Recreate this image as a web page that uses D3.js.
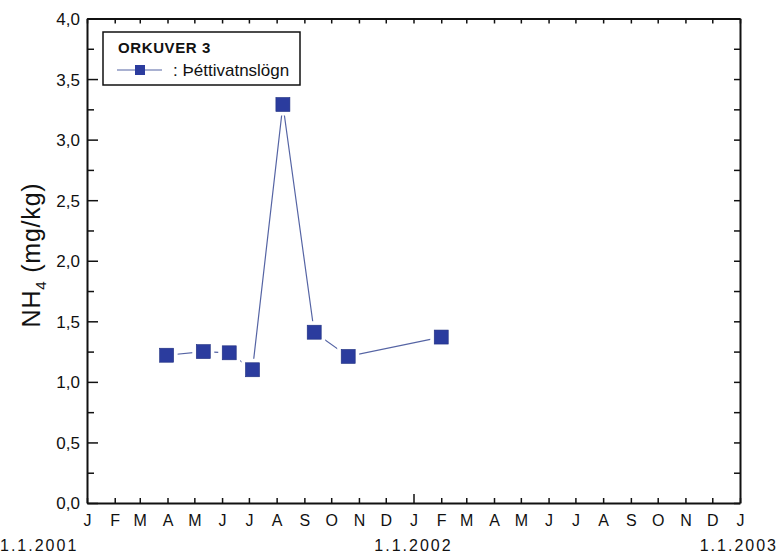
<!DOCTYPE html>
<html>
<head>
<meta charset="utf-8">
<script src="https://cdn.jsdelivr.net/npm/d3@7"></script>
<style>
  body { margin: 0; background: #fff; }
  text { font-family: "Liberation Sans", Arial, sans-serif; }
</style>
</head>
<body>
<div id="chart"></div>
<script>
// sample dates and NH4 values (mg/kg)
const sampleDates = ["2001-03-31", "2001-05-11", "2001-06-09", "2001-07-05", "2001-08-08", "2001-09-12", "2001-10-20", "2002-02-01"];
const nh4 = [1.22, 1.25, 1.24, 1.10, 3.29, 1.41, 1.21, 1.37];
const monthLetters = ["J", "F", "M", "A", "M", "J", "J", "A", "S", "O", "N", "D"];
const yearLabels = ["1.1.2001", "1.1.2002", "1.1.2003"];
const yTicks = [0, 0.5, 1, 1.5, 2, 2.5, 3, 3.5, 4];
const yMinorTicks = [0.25, 0.75, 1.25, 1.75, 2.25, 2.75, 3.25, 3.75];
const seriesName = ": Þéttivatnslögn";
const legendTitle = "ORKUVER 3";

const width = 780, height = 556;
const plotLeft = 87, plotRight = 740, plotTop = 18.5, plotBottom = 503;
const markerColor = "#2b3c9e";

const parse = d3.timeParse("%Y-%m-%d");
const data = sampleDates.map((d, i) => ({ date: parse(d), value: nh4[i] }));

const svg = d3.select("#chart").append("svg")
    .attr("width", width)
    .attr("height", height);

const x = d3.scaleTime()
    .domain([new Date(2001, 0, 1), new Date(2003, 0, 1)])
    .range([plotLeft, plotRight]);
const y = d3.scaleLinear().domain([0, 4]).range([plotBottom, plotTop]);

const months = d3.timeMonth.range(new Date(2001, 0, 1), new Date(2003, 0, 2));

// bottom axis with month letters
const xAxis = svg.append("g")
    .attr("transform", `translate(0,${plotBottom})`)
    .call(d3.axisBottom(x)
        .tickValues(months)
        .tickSizeInner(-5)
        .tickSizeOuter(0)
        .tickPadding(12)
        .tickFormat(d => monthLetters[d.getMonth()]));
xAxis.selectAll(".tick line")
    .attr("y2", d => (d.getMonth() === 0 && d.getFullYear() === 2002) ? -9 : -5);

// top axis, ticks only
svg.append("g")
    .attr("transform", `translate(0,${plotTop})`)
    .call(d3.axisTop(x).tickValues(months).tickSizeInner(-5).tickSizeOuter(0).tickFormat(""));

// left axis
const yAxis = svg.append("g")
    .attr("transform", `translate(${plotLeft},0)`)
    .call(d3.axisLeft(y)
        .tickValues(yTicks)
        .tickSizeInner(-11)
        .tickSizeOuter(0)
        .tickPadding(7)
        .tickFormat(d => d3.format(".1f")(d).replace(".", ",")));
svg.append("g")
    .attr("transform", `translate(${plotLeft},0)`)
    .call(d3.axisLeft(y).tickValues(yMinorTicks).tickSizeInner(-7).tickSizeOuter(0).tickFormat(""))
    .select(".domain").remove();

// right axis, ticks only
svg.append("g")
    .attr("transform", `translate(${plotRight},0)`)
    .call(d3.axisRight(y).tickValues(yTicks.concat(yMinorTicks)).tickSizeInner(-6).tickSizeOuter(0).tickFormat(""));

svg.selectAll(".domain").attr("stroke", "#111").attr("stroke-width", 2);
svg.selectAll(".tick line").attr("stroke", "#111").attr("stroke-width", 1.5);
svg.selectAll(".tick text").attr("fill", "#111").style("font-size", "16px");
yAxis.selectAll(".tick text").style("font-size", "17px").attr("dy", "0.35em");

// year labels under January ticks
svg.selectAll(".year")
    .data(yearLabels)
    .enter().append("text")
    .attr("class", "year")
    .attr("x", (d, i) => x(new Date(2001 + i, 0, 1)))
    .attr("y", 551)
    .attr("text-anchor", (d, i) => i === 0 ? "start" : (i === 2 ? "end" : "middle"))
    .attr("dx", (d, i) => i === 0 ? -87 : (i === 2 ? 38 : 0))
    .attr("fill", "#111")
    .style("font-size", "16px")
    .style("letter-spacing", "2px")
    .text(d => d);

// y axis title with subscript
const yTitle = svg.append("text")
    .attr("transform", "translate(40,255) rotate(-90)")
    .attr("text-anchor", "middle")
    .attr("fill", "#111")
    .style("font-size", "25px")
    .style("letter-spacing", "0.8px");
yTitle.append("tspan").text("NH");
yTitle.append("tspan").attr("dy", 6).style("font-size", "15px").text("4");
yTitle.append("tspan").attr("dy", -6).text(" (mg/kg)");

// series line
const line = d3.line().x(d => x(d.date)).y(d => y(d.value));
svg.append("path")
    .datum(data)
    .attr("fill", "none")
    .attr("stroke", "#5564a4")
    .attr("stroke-width", 1.2)
    .attr("d", line);

// white halo around markers gives the gap between line and symbol
svg.selectAll(".halo")
    .data(data)
    .enter().append("rect")
    .attr("class", "halo")
    .attr("x", d => x(d.date) - 11)
    .attr("y", d => y(d.value) - 11)
    .attr("width", 22)
    .attr("height", 22)
    .attr("fill", "#fff");

svg.selectAll(".marker")
    .data(data)
    .enter().append("rect")
    .attr("class", "marker")
    .attr("x", d => x(d.date) - 7)
    .attr("y", d => y(d.value) - 7)
    .attr("width", 14)
    .attr("height", 14)
    .attr("fill", markerColor)
    .attr("stroke", "#1f2f80")
    .attr("stroke-width", 0.6);

// legend
const legend = svg.append("g");
legend.append("rect")
    .attr("x", 103).attr("y", 32)
    .attr("width", 197).attr("height", 53)
    .attr("fill", "#fff")
    .attr("stroke", "#111")
    .attr("stroke-width", 1.5);
legend.append("text")
    .attr("x", 118).attr("y", 53)
    .attr("fill", "#111")
    .style("font-size", "15px")
    .style("font-weight", "bold")
    .style("letter-spacing", "0.6px")
    .text(legendTitle);
legend.append("line")
    .attr("x1", 117).attr("x2", 162)
    .attr("y1", 70).attr("y2", 70)
    .attr("stroke", "#5564a4")
    .attr("stroke-width", 1.2);
legend.append("rect")
    .attr("x", 135).attr("y", 65)
    .attr("width", 10).attr("height", 10)
    .attr("fill", markerColor);
legend.append("text")
    .attr("x", 173).attr("y", 76)
    .attr("fill", "#111")
    .style("font-size", "17px")
    .text(seriesName);
</script>
</body>
</html>
